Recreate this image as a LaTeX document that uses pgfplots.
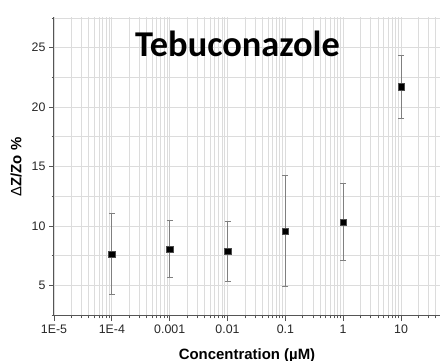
\documentclass[border=0pt]{standalone}
\usepackage{pgfplots}
\pgfplotsset{compat=1.18}
\usepackage{fontspec}
\setmainfont{Liberation Sans}
\newfontfamily\titlefont{Carlito}

% mean response and standard deviation at each concentration
\usepackage{pgfplotstable}
\pgfplotstableread{
conc   dz     err
1e-4   7.64   3.42
0.001  8.06   2.40
0.01   7.87   2.54
0.1    9.56   4.66
1      10.32  3.25
10     21.70  2.65
}\tebu

\definecolor{gridgray}{HTML}{DCDCDC}
\definecolor{axisgray}{HTML}{555555}
\definecolor{errgray}{HTML}{808080}

\begin{document}
\begin{tikzpicture}
\useasboundingbox (0,0) rectangle (440bp,361bp);
\begin{axis}[
  at={(54bp,45bp)}, anchor=south west,
  scale only axis, width=386bp, height=299bp,
  xmode=log, xmin=1e-5, xmax=47.2,
  ymin=2.42, ymax=27.58,
  axis x line=bottom, axis y line=left,
  axis line style={draw=axisgray, line width=1bp, -},
  xtick={1e-5,1e-4,0.001,0.01,0.1,1,10},
  xticklabels={1E-5,1E-4,0.001,0.01,0.1,1,10},
  minor xtick={2e-5,3e-5,4e-5,5e-5,6e-5,7e-5,8e-5,9e-5,
               2e-4,3e-4,4e-4,5e-4,6e-4,7e-4,8e-4,9e-4,
               0.002,0.003,0.004,0.005,0.006,0.007,0.008,0.009,
               0.02,0.03,0.04,0.05,0.06,0.07,0.08,0.09,
               0.2,0.3,0.4,0.5,0.6,0.7,0.8,0.9,
               2,3,4,5,6,7,8,9,
               20,30,40},
  ytick={5,10,15,20,25},
  minor ytick={2.5,7.5,12.5,17.5,22.5,27.5},
  xmajorgrids, xminorgrids, ymajorgrids, yminorgrids,
  major grid style={draw=gridgray, line width=0.8bp},
  minor grid style={draw=gridgray, line width=0.8bp},
  tick align=outside,
  major tick length=5bp, minor tick length=2.5bp,
  every tick/.style={draw=axisgray, line width=0.8bp},
  ticklabel style={font=\fontsize{12.4}{14}\selectfont, text=black!85},
  /pgf/number format/assume math mode=true,
]
\addplot[only marks, mark=square*, mark size=3.2bp,
  mark options={fill=black, draw=black!70},
  error bars/.cd, y dir=both, y explicit,
  error bar style={draw=errgray, line width=0.8bp},
  error mark options={rotate=90, mark size=3bp, draw=errgray, line width=0.8bp}]
  table[x=conc, y=dz, y error=err] {\tebu};
\end{axis}
\node[anchor=base, inner sep=0, font=\titlefont\bfseries\fontsize{36.5}{40}\selectfont]
  at (237.5bp,304bp) {Tebuconazole};
\node[anchor=base, inner sep=0, font=\bfseries\fontsize{15}{17}\selectfont]
  at (247bp,2bp) {Concentration (µM)};
\node[rotate=90, anchor=center, inner sep=0, font=\fontsize{15}{17}\selectfont]
  at (16bp,194bp) {Δ\textbf{Z/Zo \%}};
\end{tikzpicture}
\end{document}
